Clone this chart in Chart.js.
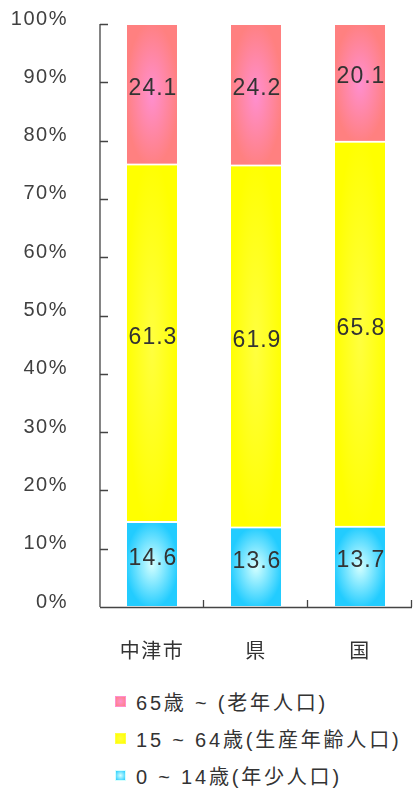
<!DOCTYPE html>
<html>
<head>
<meta charset="utf-8">
<script src="https://cdn.jsdelivr.net/npm/chart.js@4/dist/chart.umd.min.js"></script>
<style>
  body { margin: 0; background: #fff; width: 414px; height: 793px; overflow: hidden; position: relative; }
  #wrap { position: absolute; left: 0; top: 0; width: 414px; height: 670px; }
  #legend { position: absolute; left: 115px; top: 683px; font: 20px "Liberation Sans", Arial, "Noto Sans CJK JP", sans-serif; color: #333; letter-spacing: 2.8px; }
  .item { height: 37px; display: flex; align-items: center; }
  .box { width: 11px; height: 11px; margin-right: 10px; box-sizing: border-box; }
</style>
</head>
<body>
<div id="wrap"><canvas id="c"></canvas></div>
<div id="legend"></div>
<script>
// ============================================================
// DATA
// ============================================================
const areas = ['中津市', '県', '国'];
const young = [14.6, 13.6, 13.7];     // 0~14歳
const working = [61.3, 61.9, 65.8];   // 15~64歳
const elderly = [24.1, 24.2, 20.1];   // 65歳~
const yTicks = [0, 10, 20, 30, 40, 50, 60, 70, 80, 90, 100];

const seriesNames = ['0 ~ 14歳(年少人口)', '15 ~ 64歳(生産年齢人口)', '65歳 ~ (老年人口)'];
const edgeColors = ['#22ccff', '#ffff00', '#ff8080'];
const centerColors = ['#d4ffff', '#ffff40', '#ff8fd0'];

// bars are stretched to 100% like the original (totals are a bit under 100)
const totals = areas.map((_, i) => young[i] + working[i] + elderly[i]);
const share = arr => arr.map((v, i) => v / totals[i] * 100);

const raw = [young, working, elderly];

// ============================================================
// PLUGINS
// ============================================================
const spacing = {
    id: 'spacing',
    beforeUpdate(chart) { chart.ctx.letterSpacing = '1.5px'; },
    beforeDraw(chart) { chart.ctx.letterSpacing = '1.5px'; }
};

// box-ish gradient inside each bar
const barShade = {
    id: 'barShade',
    afterDatasetDraw(chart, args) {
        const ctx = chart.ctx;
        const i = args.index;
        args.meta.data.forEach(bar => {
            const p = bar.getProps(['x', 'y', 'base', 'width'], true);
            const l = p.x - p.width / 2 + 1, r = p.x + p.width / 2 - 1;
            const t = Math.min(p.y, p.base) + 1, b = Math.max(p.y, p.base) - 1;
            if (b <= t) return;
            ctx.save();
            ctx.beginPath(); ctx.rect(l, t, r - l, b - t); ctx.clip();
            ctx.translate((l + r) / 2, (t + b) / 2);
            ctx.scale((r - l) / 2, (b - t) / 2);
            const g = ctx.createRadialGradient(0, 0, 0, 0, 0, 1.05);
            g.addColorStop(0, centerColors[i]);
            g.addColorStop(1, edgeColors[i]);
            ctx.fillStyle = g;
            ctx.fillRect(-1, -1, 2, 2);
            ctx.restore();
        });
    }
};

// axis tick marks pointing inwards
const innerTicks = {
    id: 'innerTicks',
    afterDraw(chart) {
        const ctx = chart.ctx, ys = chart.scales.y;
        const { left, right, top, bottom } = chart.chartArea;
        ctx.save();
        ctx.strokeStyle = '#444'; ctx.lineWidth = 1.3;
        ctx.beginPath();
        ys.ticks.forEach(t => {
            const py = Math.round(ys.getPixelForValue(t.value)) + 0.5;
            ctx.moveTo(left, py); ctx.lineTo(left + 8, py);
        });
        const step = (right - left) / areas.length;
        for (let k = 1; k <= areas.length; k++) {
            const px = Math.round(left + k * step) - 0.5;
            ctx.moveTo(px, bottom); ctx.lineTo(px, bottom - 7);
        }
        ctx.moveTo(left, top); ctx.lineTo(left, bottom);
        ctx.moveTo(left, bottom + 0.5); ctx.lineTo(right, bottom + 0.5);
        ctx.stroke();
        ctx.restore();
    }
};

// values inside the segments
const valueLabels = {
    id: 'valueLabels',
    afterDatasetsDraw(chart) {
        const ctx = chart.ctx;
        ctx.save();
        ctx.font = '23px "Liberation Sans", Arial, sans-serif';
        ctx.fillStyle = '#333';
        ctx.textAlign = 'center';
        ctx.textBaseline = 'middle';
        ctx.letterSpacing = '1px';
        chart.data.datasets.forEach((ds, di) => {
            chart.getDatasetMeta(di).data.forEach((bar, j) => {
                const p = bar.getProps(['x', 'y', 'base'], true);
                ctx.fillText(raw[di][j].toFixed(1), p.x + 1, (p.y + p.base) / 2 - 6);
            });
        });
        ctx.restore();
    }
};

// ============================================================
// CHART
// ============================================================
const ctx = document.getElementById('c').getContext('2d');
const chart = new Chart(ctx, {
    type: 'bar',
    data: {
        labels: areas,
        datasets: [young, working, elderly].map((arr, i) => ({
            label: seriesNames[i],
            data: share(arr),
            backgroundColor: edgeColors[i],
            borderColor: '#fff',
            borderWidth: 1,
            borderSkipped: false,
            categoryPercentage: 1,
            barPercentage: 0.5
        }))
    },
    options: {
        responsive: true,
        maintainAspectRatio: false,
        animation: false,
        layout: { padding: { top: 24, right: 2, bottom: 0, left: 0 } },
        plugins: { legend: { display: false }, tooltip: { enabled: false } },
        scales: {
            x: {
                stacked: true,
                grid: { display: false },
                border: { display: false },
                ticks: { color: '#333', font: { size: 20, family: '"Noto Sans CJK JP", sans-serif' }, padding: 23 },
                afterFit(s) { s.height = 63; s.paddingLeft = 0; s.paddingRight = 0; }
            },
            y: {
                stacked: true,
                min: 0, max: 100,
                grid: { display: false },
                border: { display: false },
                afterBuildTicks(s) { s.ticks = yTicks.map(v => ({ value: v })); },
                ticks: {
                    color: '#404040',
                    font: { size: 20, family: '"Liberation Sans", Arial, sans-serif' },
                    padding: 24,
                    labelOffset: -5,
                    callback: v => v + '%'
                },
                afterFit(s) { s.width = 100; s.paddingTop = 0; s.paddingBottom = 0; }
            }
        }
    },
    plugins: [spacing, barShade, valueLabels, innerTicks]
});

// legend (top to bottom: elderly, working, young)
const legend = document.getElementById('legend');
[2, 1, 0].forEach(i => {
    const row = document.createElement('div');
    row.className = 'item';
    row.innerHTML = `<span class="box" style="background: radial-gradient(${centerColors[i]}, ${edgeColors[i]}); border: 1px solid ${centerColors[i]}"></span>${seriesNames[i]}`;
    legend.appendChild(row);
});
</script>
</body>
</html>
